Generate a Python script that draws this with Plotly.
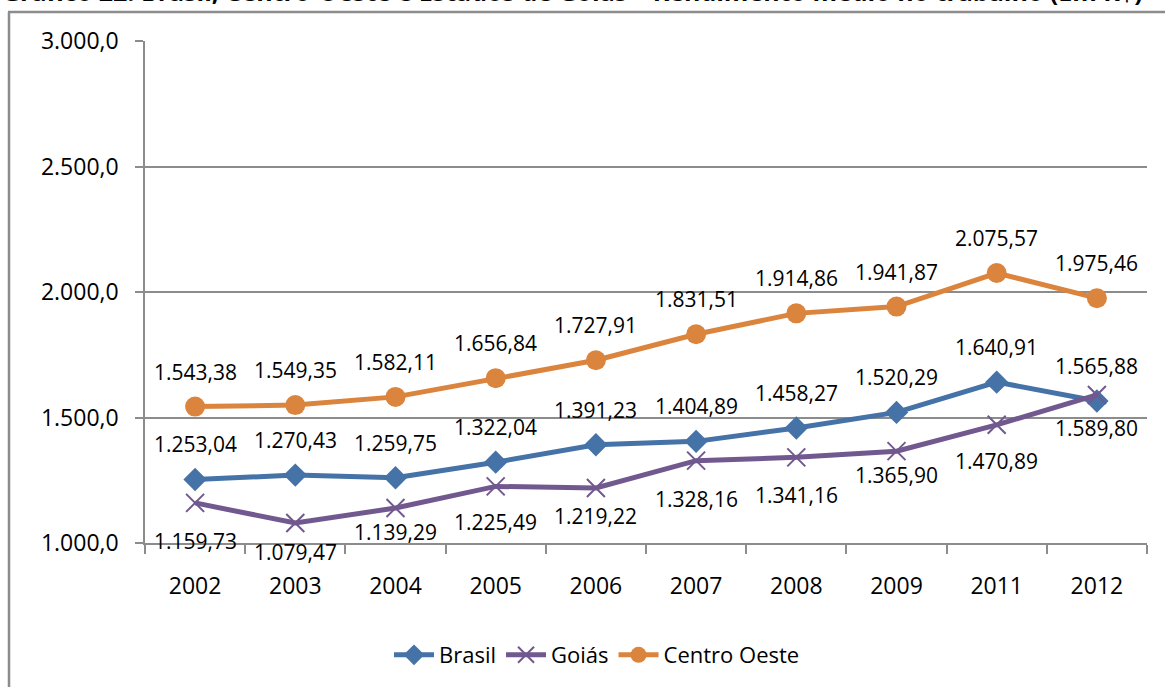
import plotly.graph_objects as go

years = ["2002", "2003", "2004", "2005", "2006", "2007", "2008", "2009", "2011", "2012"]
brasil = [1253.04, 1270.43, 1259.75, 1322.04, 1391.23, 1404.89, 1458.27, 1520.29, 1640.91, 1565.88]
goias = [1159.73, 1079.47, 1139.29, 1225.49, 1219.22, 1328.16, 1341.16, 1365.90, 1470.89, 1589.80]
centro_oeste = [1543.38, 1549.35, 1582.11, 1656.84, 1727.91, 1831.51, 1914.86, 1941.87, 2075.57, 1975.46]
y_ticks = [1000, 1500, 2000, 2500, 3000]
title_text = "Gráfico 22: Brasil, Centro-Oeste e Estados de Goiás – Rendimento médio no trabalho (Em R$)"

# label offsets in pixels (style only): above (+) / below (-) the marker
brasil_label_shift = [35] * 10
centro_label_shift = [35] * 10
goias_label_shift = [-38, -29, -24, -36, -28, -38, -38, -24, -36, -33]

W, H = 1165, 687
L, R, T, B = 145, 18, 41, 143
pw, ph = W - L - R, H - T - B
Y0, Y1 = 1000, 3000

def px_x(p):
    return (p - L) / pw

def px_y(p):
    return (H - B - p) / ph

FONT = "Open Sans"
BLUE = "#4572A7"
PURPLE = "#71588F"
ORANGE = "#DB843D"
GRID = "#8C8C8C"

fig = go.Figure()
fig.add_trace(go.Scatter(x=years, y=brasil, name="Brasil", mode="lines+markers",
                         line=dict(color=BLUE, width=5),
                         marker=dict(symbol="diamond", size=18, color=BLUE)))
fig.add_trace(go.Scatter(x=years, y=goias, name="Goiás", mode="lines+markers",
                         line=dict(color=PURPLE, width=5),
                         marker=dict(symbol="x-thin-open", size=18, color=PURPLE,
                                     line=dict(color=PURPLE, width=2))))
fig.add_trace(go.Scatter(x=years, y=centro_oeste, name="Centro Oeste", mode="lines+markers",
                         line=dict(color=ORANGE, width=5),
                         marker=dict(symbol="circle", size=20, color=ORANGE)))

def fmt(v):
    s = f"{v:,.2f}"
    return s.replace(",", "X").replace(".", ",").replace("X", ".")

annotations = []
for series, shifts in ((brasil, brasil_label_shift), (goias, goias_label_shift),
                       (centro_oeste, centro_label_shift)):
    for i, (yv, s) in enumerate(zip(series, shifts)):
        annotations.append(dict(x=i, y=yv, xref="x", yref="y", text=fmt(yv),
                                showarrow=False, yshift=s,
                                font=dict(family=FONT, size=21, color="#000000")))

annotations.append(dict(x=px_x(0), y=px_y(10), xref="paper", yref="paper",
                        xanchor="left", yanchor="bottom", showarrow=False,
                        text="<b>" + title_text + "</b>",
                        font=dict(family=FONT, size=25, color="#000000")))

fig.update_layout(
    width=W, height=H,
    margin=dict(l=L, r=R, t=T, b=B, pad=0),
    paper_bgcolor="white", plot_bgcolor="white",
    separators=",.",
    showlegend=True,
    legend=dict(orientation="h", x=px_x(597), xanchor="center", y=px_y(655), yanchor="middle",
                font=dict(family=FONT, size=22, color="#000000"),
                itemwidth=40, tracegroupgap=0, bgcolor="rgba(0,0,0,0)"),
    annotations=annotations,
    shapes=[
        dict(type="line", xref="paper", yref="paper", x0=px_x(9), x1=px_x(9),
             y0=px_y(12), y1=px_y(700), line=dict(color="#8C8C8C", width=2.5)),
        dict(type="line", xref="paper", yref="paper", x0=px_x(8), x1=px_x(1180),
             y0=px_y(12), y1=px_y(12), line=dict(color="#8C8C8C", width=2.5)),
    ],
)

fig.update_xaxes(type="category", showgrid=False, showline=True, linecolor=GRID, linewidth=1.5,
                 ticks="outside", tickson="boundaries", ticklen=9, tickcolor=GRID, tickwidth=1.5,
                 tickfont=dict(family=FONT, size=23, color="#000000"),
                 ticklabelstandoff=22, range=[-0.5, 9.5], zeroline=False)
fig.update_yaxes(range=[Y0, Y1], tickvals=y_ticks, tickformat=",.1f",
                 showgrid=True, gridcolor=GRID, gridwidth=1.5,
                 showline=True, linecolor=GRID, linewidth=1.5,
                 ticks="outside", ticklen=8, tickcolor=GRID, tickwidth=1.5,
                 tickfont=dict(family=FONT, size=23, color="#000000"),
                 ticklabelstandoff=12, zeroline=False)

fig.write_html("out.html", config={"displayModeBar": False},
               post_script="document.body.style.margin='0';")
